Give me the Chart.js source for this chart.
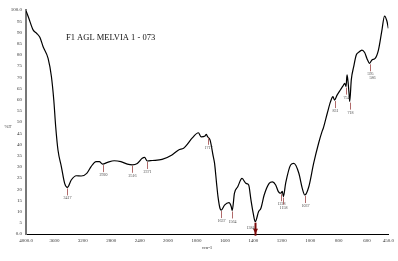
<!DOCTYPE html>
<html>
<head>
<meta charset="utf-8">
<script src="https://cdn.jsdelivr.net/npm/chart.js@4.4.1/dist/chart.umd.min.js"></script>
<style>
  html, body { margin: 0; padding: 0; background: #fff; }
  #wrap { width: 398px; height: 261px; }
</style>
</head>
<body>
<div id="wrap"><canvas id="irChart" width="398" height="261"></canvas></div>
<script>
// Spectrum (wavenumber cm-1, %T)
const wavenumber = [
    4000, 3968, 3898, 3851, 3805, 3759, 3689, 3642, 3609, 3582,
    3550, 3502, 3456, 3418, 3363, 3293, 3223, 3145, 3084, 3014,
    2968, 2922, 2852, 2759, 2665, 2573, 2503, 2434, 2364, 2331,
    2294, 2225, 2085, 1973, 1926, 1891, 1879, 1828, 1787, 1768,
    1740, 1731, 1722, 1705, 1682, 1673, 1659, 1649, 1635, 1626,
    1603, 1572, 1556, 1549, 1533, 1510, 1480, 1452, 1433, 1417,
    1401, 1387, 1363, 1347, 1324, 1289, 1266, 1243, 1224, 1208,
    1196, 1189, 1173, 1138, 1115, 1080, 1056, 1038, 1010, 976,
    941, 917, 908, 880, 857, 840, 829, 811, 788, 769,
    757, 748, 741, 734, 725, 722, 711, 694, 676, 659,
    636, 617, 601, 582, 566, 543, 520, 497, 477, 461,
    450
];
const transmittance = [
    99.6, 97.0, 91.0, 89.6, 87.8, 83.6, 78.4, 70.2, 59.8, 47.9,
    37.5, 30.0, 22.6, 20.8, 24.1, 26.0, 25.9, 27.1, 30.1, 32.3,
    32.3, 31.2, 32.0, 32.7, 32.3, 31.2, 30.9, 31.5, 33.8, 34.2,
    32.6, 32.8, 33.3, 35.3, 37.5, 38.3, 39.0, 43.0, 45.2, 43.4,
    43.8, 44.5, 43.4, 42.0, 34.5, 31.5, 22.6, 16.7, 11.5, 10.7,
    12.9, 14.0, 12.3, 10.5, 18.2, 21.1, 24.8, 22.6, 21.9, 15.2,
    9.2, 5.5, 10.0, 11.5, 17.4, 22.6, 23.3, 21.9, 18.9, 18.2,
    19.0, 16.7, 22.6, 30.8, 31.5, 27.1, 20.4, 17.4, 21.1, 31.5,
    40.5, 45.7, 47.2, 53.9, 59.1, 61.3, 59.8, 62.0, 64.3, 66.1,
    67.3, 65.8, 71.0, 68.0, 61.3, 59.1, 68.8, 74.7, 79.9, 81.1,
    82.1, 81.0, 78.4, 76.2, 77.7, 78.4, 82.1, 90.3, 97.3, 95.2,
    91.8
];

// Labelled peaks
const peakWn = [3418, 2922, 2503, 2294, 1722, 1626, 1549, 1387, 1208, 1189, 1038, 829, 748, 722, 582];
const peakT = [20.8, 31.2, 30.9, 32.6, 43.4, 10.7, 10.5, 5.5, 18.2, 16.7, 17.4, 59.8, 65.8, 59.1, 76.2];
const peakLabels = ['3417', '2920', '2516', '2371', '1717', '1637', '1564', '1384', '1228', '1158', '1037', '831', '754', '718', '595 586'];

// Axis ticks
const xTickValues = [4000, 3600, 3200, 2800, 2400, 2000, 1800, 1600, 1400, 1200, 1000, 800, 600, 450];
const xTickLabels = ['4000.0', '3600', '3200', '2800', '2400', '2000', '1800', '1600', '1400', '1200', '1000', '800', '600', '450.0'];

const chartTitle = 'F1 AGL MELVIA 1 - 073';

// x axis is compressed above 2000 cm-1 (half scale), like the instrument plot
function toAxis(wn) {
    return wn >= 2000 ? 4000 - wn : 2000 + 2 * (2000 - wn);
}

const SERIF = "'Liberation Serif', 'DejaVu Serif', serif";

const spectrumText = {
    id: 'spectrumText',
    afterDatasetsDraw(chart) {
        const ctx = chart.ctx;
        const xs = chart.scales.x, ys = chart.scales.y;
        ctx.save();

        // peak markers
        peakWn.forEach((wn, i) => {
            const px = Math.round(xs.getPixelForValue(toAxis(wn))) + 0.5;
            const py = ys.getPixelForValue(peakT[i]);
            const big = peakLabels[i] === '1384';
            ctx.strokeStyle = big ? '#7a0a0a' : '#b06a6a';
            ctx.lineWidth = big ? 2 : 1;
            ctx.beginPath();
            ctx.moveTo(px, py + 1);
            ctx.lineTo(px, py + (big ? 14 : 8));
            ctx.stroke();
            if (big) {
                ctx.fillStyle = '#7a0a0a';
                ctx.beginPath();
                ctx.moveTo(px - 2.5, py + 7);
                ctx.lineTo(px + 2.5, py + 7);
                ctx.lineTo(px, py + 12);
                ctx.closePath();
                ctx.fill();
            }
            ctx.fillStyle = '#444';
            ctx.font = '4px ' + SERIF;
            ctx.textAlign = 'center';
            ctx.textBaseline = 'top';
            const parts = peakLabels[i].split(' ');
            parts.forEach((t, k) => {
                if (big) {
                    ctx.fillText(t, px - 5, py + 4);
                } else {
                    ctx.fillText(t, px + k * 2, py + 9 + k * 4);
                }
            });
        });

        // title inside the plot
        ctx.fillStyle = '#111';
        ctx.font = '8.5px ' + SERIF;
        ctx.textAlign = 'left';
        ctx.textBaseline = 'middle';
        ctx.fillText(chartTitle, 66, 38);

        // axis captions
        ctx.font = '5px ' + SERIF;
        ctx.textAlign = 'center';
        ctx.fillStyle = '#333';
        ctx.fillText('%T', 8, 127);
        ctx.fillText('cm-1', (chart.chartArea.left + chart.chartArea.right) / 2, 248);
        ctx.restore();
    }
};

const ctxIr = document.getElementById('irChart').getContext('2d');
const irChart = new Chart(ctxIr, {
    type: 'line',
    data: {
        datasets: [{
            data: wavenumber.map((wn, i) => ({ x: toAxis(wn), y: transmittance[i] })),
            borderColor: '#000',
            borderWidth: 1.2,
            pointRadius: 0,
            cubicInterpolationMode: 'monotone',
            fill: false
        }]
    },
    options: {
        responsive: false,
        animation: false,
        layout: { padding: { top: 10, right: 6, bottom: 0, left: 0 } },
        plugins: {
            legend: { display: false },
            tooltip: { enabled: false }
        },
        scales: {
            x: {
                type: 'linear',
                min: toAxis(4000),
                max: toAxis(450),
                grid: { display: false, drawTicks: false },
                border: { color: '#000', width: 1 },
                afterBuildTicks: (scale) => {
                    scale.ticks = xTickValues.map(v => ({ value: toAxis(v) }));
                },
                afterFit: (scale) => { scale.height = 27; },
                ticks: {
                    autoSkip: false,
                    maxRotation: 0,
                    padding: 4,
                    color: '#333',
                    font: { family: SERIF, size: 5 },
                    callback: (value) => {
                        const i = xTickValues.findIndex(v => toAxis(v) === value);
                        return i >= 0 ? xTickLabels[i] : '';
                    }
                }
            },
            y: {
                min: 0,
                max: 100,
                grid: { display: false, drawTicks: false },
                border: { color: '#777', width: 2 },
                afterFit: (scale) => { scale.width = 26; },
                ticks: {
                    stepSize: 5,
                    padding: 4,
                    color: '#333',
                    font: { family: SERIF, size: 5 },
                    callback: (value) => value === 100 ? '100.0' : (value === 0 ? '0.0' : value)
                }
            }
        }
    },
    plugins: [spectrumText]
});
</script>
</body>
</html>
